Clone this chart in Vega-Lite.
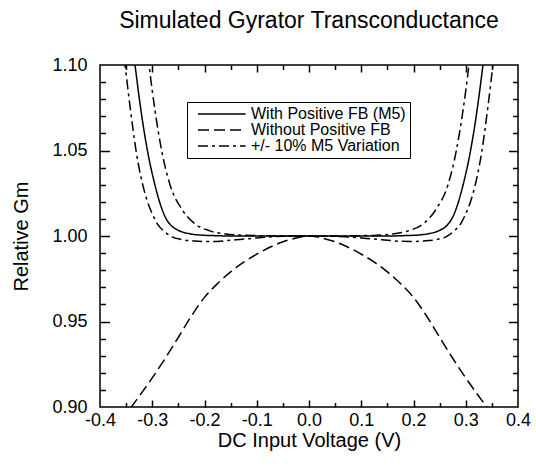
{
  "$schema": "https://vega.github.io/schema/vega-lite/v6.json",
  "width": 418,
  "height": 342,
  "autosize": {"type": "none"},
  "padding": {"left": 100, "top": 65, "right": 18, "bottom": 61},
  "background": "white",
  "title": {"text": "Simulated Gyrator Transconductance", "fontSize": 23, "fontWeight": "normal", "font": "Liberation Sans", "anchor": "middle", "baseline": "alphabetic", "offset": 11, "dy": 28, "color": "black"},
  "data": {"values": [
    {"c": "fb", "s": "With Positive FB (M5)", "x": -0.34, "y": 1.116},
    {"c": "fb", "s": "With Positive FB (M5)", "x": -0.333, "y": 1.1},
    {"c": "fb", "s": "With Positive FB (M5)", "x": -0.325, "y": 1.081},
    {"c": "fb", "s": "With Positive FB (M5)", "x": -0.317, "y": 1.064},
    {"c": "fb", "s": "With Positive FB (M5)", "x": -0.308, "y": 1.048},
    {"c": "fb", "s": "With Positive FB (M5)", "x": -0.295, "y": 1.03},
    {"c": "fb", "s": "With Positive FB (M5)", "x": -0.285, "y": 1.019},
    {"c": "fb", "s": "With Positive FB (M5)", "x": -0.275, "y": 1.011},
    {"c": "fb", "s": "With Positive FB (M5)", "x": -0.265, "y": 1.0065},
    {"c": "fb", "s": "With Positive FB (M5)", "x": -0.25, "y": 1.0033},
    {"c": "fb", "s": "With Positive FB (M5)", "x": -0.23, "y": 1.0014},
    {"c": "fb", "s": "With Positive FB (M5)", "x": -0.21, "y": 1.0006},
    {"c": "fb", "s": "With Positive FB (M5)", "x": -0.18, "y": 1.0002},
    {"c": "fb", "s": "With Positive FB (M5)", "x": -0.15, "y": 1.0},
    {"c": "fb", "s": "With Positive FB (M5)", "x": -0.1, "y": 1.0},
    {"c": "fb", "s": "With Positive FB (M5)", "x": 0, "y": 1.0},
    {"c": "fb", "s": "With Positive FB (M5)", "x": 0.1, "y": 1.0},
    {"c": "fb", "s": "With Positive FB (M5)", "x": 0.15, "y": 1.0},
    {"c": "fb", "s": "With Positive FB (M5)", "x": 0.18, "y": 1.0002},
    {"c": "fb", "s": "With Positive FB (M5)", "x": 0.21, "y": 1.0006},
    {"c": "fb", "s": "With Positive FB (M5)", "x": 0.23, "y": 1.0014},
    {"c": "fb", "s": "With Positive FB (M5)", "x": 0.25, "y": 1.0033},
    {"c": "fb", "s": "With Positive FB (M5)", "x": 0.265, "y": 1.0065},
    {"c": "fb", "s": "With Positive FB (M5)", "x": 0.275, "y": 1.011},
    {"c": "fb", "s": "With Positive FB (M5)", "x": 0.285, "y": 1.019},
    {"c": "fb", "s": "With Positive FB (M5)", "x": 0.295, "y": 1.03},
    {"c": "fb", "s": "With Positive FB (M5)", "x": 0.308, "y": 1.048},
    {"c": "fb", "s": "With Positive FB (M5)", "x": 0.317, "y": 1.064},
    {"c": "fb", "s": "With Positive FB (M5)", "x": 0.325, "y": 1.081},
    {"c": "fb", "s": "With Positive FB (M5)", "x": 0.333, "y": 1.1},
    {"c": "fb", "s": "With Positive FB (M5)", "x": 0.34, "y": 1.116},
    {"c": "nf", "s": "Without Positive FB", "x": -0.36, "y": 0.892},
    {"c": "nf", "s": "Without Positive FB", "x": -0.34, "y": 0.9},
    {"c": "nf", "s": "Without Positive FB", "x": -0.325, "y": 0.9063},
    {"c": "nf", "s": "Without Positive FB", "x": -0.3, "y": 0.917},
    {"c": "nf", "s": "Without Positive FB", "x": -0.275, "y": 0.9285},
    {"c": "nf", "s": "Without Positive FB", "x": -0.25, "y": 0.9408},
    {"c": "nf", "s": "Without Positive FB", "x": -0.225, "y": 0.9532},
    {"c": "nf", "s": "Without Positive FB", "x": -0.2, "y": 0.9641},
    {"c": "nf", "s": "Without Positive FB", "x": -0.175, "y": 0.9722},
    {"c": "nf", "s": "Without Positive FB", "x": -0.15, "y": 0.979},
    {"c": "nf", "s": "Without Positive FB", "x": -0.125, "y": 0.9847},
    {"c": "nf", "s": "Without Positive FB", "x": -0.1, "y": 0.9894},
    {"c": "nf", "s": "Without Positive FB", "x": -0.075, "y": 0.9934},
    {"c": "nf", "s": "Without Positive FB", "x": -0.05, "y": 0.9966},
    {"c": "nf", "s": "Without Positive FB", "x": -0.025, "y": 0.9988},
    {"c": "nf", "s": "Without Positive FB", "x": 0, "y": 1.0},
    {"c": "nf", "s": "Without Positive FB", "x": 0.025, "y": 0.9988},
    {"c": "nf", "s": "Without Positive FB", "x": 0.05, "y": 0.9966},
    {"c": "nf", "s": "Without Positive FB", "x": 0.075, "y": 0.9934},
    {"c": "nf", "s": "Without Positive FB", "x": 0.1, "y": 0.9894},
    {"c": "nf", "s": "Without Positive FB", "x": 0.125, "y": 0.9847},
    {"c": "nf", "s": "Without Positive FB", "x": 0.15, "y": 0.979},
    {"c": "nf", "s": "Without Positive FB", "x": 0.175, "y": 0.9722},
    {"c": "nf", "s": "Without Positive FB", "x": 0.2, "y": 0.9641},
    {"c": "nf", "s": "Without Positive FB", "x": 0.225, "y": 0.9532},
    {"c": "nf", "s": "Without Positive FB", "x": 0.25, "y": 0.9408},
    {"c": "nf", "s": "Without Positive FB", "x": 0.275, "y": 0.9285},
    {"c": "nf", "s": "Without Positive FB", "x": 0.3, "y": 0.917},
    {"c": "nf", "s": "Without Positive FB", "x": 0.325, "y": 0.9063},
    {"c": "nf", "s": "Without Positive FB", "x": 0.34, "y": 0.9},
    {"c": "nf", "s": "Without Positive FB", "x": 0.36, "y": 0.892},
    {"c": "vh", "s": "+/- 10% M5 Variation", "x": -0.312, "y": 1.118},
    {"c": "vh", "s": "+/- 10% M5 Variation", "x": -0.306, "y": 1.1},
    {"c": "vh", "s": "+/- 10% M5 Variation", "x": -0.295, "y": 1.074},
    {"c": "vh", "s": "+/- 10% M5 Variation", "x": -0.282, "y": 1.05},
    {"c": "vh", "s": "+/- 10% M5 Variation", "x": -0.266, "y": 1.03},
    {"c": "vh", "s": "+/- 10% M5 Variation", "x": -0.243, "y": 1.0155},
    {"c": "vh", "s": "+/- 10% M5 Variation", "x": -0.22, "y": 1.0075},
    {"c": "vh", "s": "+/- 10% M5 Variation", "x": -0.19, "y": 1.003},
    {"c": "vh", "s": "+/- 10% M5 Variation", "x": -0.16, "y": 1.0012},
    {"c": "vh", "s": "+/- 10% M5 Variation", "x": -0.13, "y": 1.0005},
    {"c": "vh", "s": "+/- 10% M5 Variation", "x": -0.1, "y": 1.0002},
    {"c": "vh", "s": "+/- 10% M5 Variation", "x": -0.05, "y": 1.0},
    {"c": "vh", "s": "+/- 10% M5 Variation", "x": 0, "y": 1.0},
    {"c": "vh", "s": "+/- 10% M5 Variation", "x": 0.05, "y": 1.0},
    {"c": "vh", "s": "+/- 10% M5 Variation", "x": 0.1, "y": 1.0002},
    {"c": "vh", "s": "+/- 10% M5 Variation", "x": 0.13, "y": 1.0005},
    {"c": "vh", "s": "+/- 10% M5 Variation", "x": 0.16, "y": 1.0012},
    {"c": "vh", "s": "+/- 10% M5 Variation", "x": 0.19, "y": 1.003},
    {"c": "vh", "s": "+/- 10% M5 Variation", "x": 0.22, "y": 1.0075},
    {"c": "vh", "s": "+/- 10% M5 Variation", "x": 0.243, "y": 1.0155},
    {"c": "vh", "s": "+/- 10% M5 Variation", "x": 0.266, "y": 1.03},
    {"c": "vh", "s": "+/- 10% M5 Variation", "x": 0.282, "y": 1.05},
    {"c": "vh", "s": "+/- 10% M5 Variation", "x": 0.295, "y": 1.074},
    {"c": "vh", "s": "+/- 10% M5 Variation", "x": 0.306, "y": 1.1},
    {"c": "vh", "s": "+/- 10% M5 Variation", "x": 0.312, "y": 1.118},
    {"c": "vl", "s": "+/- 10% M5 Variation", "x": -0.358, "y": 1.116},
    {"c": "vl", "s": "+/- 10% M5 Variation", "x": -0.352, "y": 1.1},
    {"c": "vl", "s": "+/- 10% M5 Variation", "x": -0.343, "y": 1.077},
    {"c": "vl", "s": "+/- 10% M5 Variation", "x": -0.33, "y": 1.048},
    {"c": "vl", "s": "+/- 10% M5 Variation", "x": -0.314, "y": 1.025},
    {"c": "vl", "s": "+/- 10% M5 Variation", "x": -0.3, "y": 1.013},
    {"c": "vl", "s": "+/- 10% M5 Variation", "x": -0.29, "y": 1.007},
    {"c": "vl", "s": "+/- 10% M5 Variation", "x": -0.278, "y": 1.003},
    {"c": "vl", "s": "+/- 10% M5 Variation", "x": -0.262, "y": 0.9995},
    {"c": "vl", "s": "+/- 10% M5 Variation", "x": -0.245, "y": 0.998},
    {"c": "vl", "s": "+/- 10% M5 Variation", "x": -0.22, "y": 0.9971},
    {"c": "vl", "s": "+/- 10% M5 Variation", "x": -0.195, "y": 0.9968},
    {"c": "vl", "s": "+/- 10% M5 Variation", "x": -0.17, "y": 0.997},
    {"c": "vl", "s": "+/- 10% M5 Variation", "x": -0.14, "y": 0.9978},
    {"c": "vl", "s": "+/- 10% M5 Variation", "x": -0.11, "y": 0.9986},
    {"c": "vl", "s": "+/- 10% M5 Variation", "x": -0.08, "y": 0.9994},
    {"c": "vl", "s": "+/- 10% M5 Variation", "x": -0.05, "y": 0.9998},
    {"c": "vl", "s": "+/- 10% M5 Variation", "x": 0, "y": 1.0},
    {"c": "vl", "s": "+/- 10% M5 Variation", "x": 0.05, "y": 0.9998},
    {"c": "vl", "s": "+/- 10% M5 Variation", "x": 0.08, "y": 0.9994},
    {"c": "vl", "s": "+/- 10% M5 Variation", "x": 0.11, "y": 0.9986},
    {"c": "vl", "s": "+/- 10% M5 Variation", "x": 0.14, "y": 0.9978},
    {"c": "vl", "s": "+/- 10% M5 Variation", "x": 0.17, "y": 0.997},
    {"c": "vl", "s": "+/- 10% M5 Variation", "x": 0.195, "y": 0.9968},
    {"c": "vl", "s": "+/- 10% M5 Variation", "x": 0.22, "y": 0.9971},
    {"c": "vl", "s": "+/- 10% M5 Variation", "x": 0.245, "y": 0.998},
    {"c": "vl", "s": "+/- 10% M5 Variation", "x": 0.262, "y": 0.9995},
    {"c": "vl", "s": "+/- 10% M5 Variation", "x": 0.278, "y": 1.003},
    {"c": "vl", "s": "+/- 10% M5 Variation", "x": 0.29, "y": 1.007},
    {"c": "vl", "s": "+/- 10% M5 Variation", "x": 0.3, "y": 1.013},
    {"c": "vl", "s": "+/- 10% M5 Variation", "x": 0.314, "y": 1.025},
    {"c": "vl", "s": "+/- 10% M5 Variation", "x": 0.33, "y": 1.048},
    {"c": "vl", "s": "+/- 10% M5 Variation", "x": 0.343, "y": 1.077},
    {"c": "vl", "s": "+/- 10% M5 Variation", "x": 0.352, "y": 1.1},
    {"c": "vl", "s": "+/- 10% M5 Variation", "x": 0.358, "y": 1.116}
  ]},
  "resolve": {"axis": {"x": "independent", "y": "independent"}},
  "layer": [
    {
      "mark": {"type": "line", "clip": true, "stroke": "black", "strokeWidth": 1.5, "interpolate": "monotone"},
      "encoding": {
        "x": {"field": "x", "type": "quantitative", "scale": {"domain": [-0.4, 0.4], "nice": false, "zero": false},
              "axis": {"orient": "bottom", "values": [-0.4, -0.3, -0.2, -0.1, 0, 0.1, 0.2, 0.3, 0.4], "labelExpr": "replace(format(datum.value, '.1f'), '\u2212', '-')", "ticks": false, "labelPadding": 4, "labelFontSize": 18, "labelFlush": false, "title": "DC Input Voltage (V)", "titleFontSize": 20, "titlePadding": 1}},
        "y": {"field": "y", "type": "quantitative", "scale": {"domain": [0.9, 1.1], "nice": false, "zero": false},
              "axis": {"orient": "left", "values": [0.9, 0.95, 1.0, 1.05, 1.1], "format": ".2f", "ticks": false, "labelPadding": 13, "labelFontSize": 18, "labelFlush": false, "title": "Relative Gm", "titleFontSize": 20, "titlePadding": 20}},
        "detail": {"field": "c"},
        "strokeDash": {"field": "s", "type": "nominal",
                       "scale": {"domain": ["With Positive FB (M5)", "Without Positive FB", "+/- 10% M5 Variation"], "range": [[1, 0], [11, 5], [10, 4, 3, 4]]},
                       "legend": {"orient": "none", "legendX": 87, "legendY": 37, "title": null, "strokeColor": "black", "fillColor": "white", "padding": 4, "symbolType": "M-3.4,0H3.4", "symbolSize": 196, "symbolStrokeWidth": 1.5, "symbolStrokeColor": "black", "symbolFillColor": "transparent", "symbolOffset": 22.8, "labelFont": "Liberation Sans", "labelFontSize": 16, "labelOffset": 21.2, "labelLimit": 300, "rowPadding": 0, "labelColor": "black"}}
      }
    },
    {
      "mark": {"type": "point", "opacity": 0, "size": 1},
      "encoding": {
        "x": {"field": "x", "type": "quantitative", "axis": {"orient": "bottom", "values": [-0.3, -0.2, -0.1, 0, 0.1, 0.2, 0.3], "labels": false, "tickSize": -7, "title": null}},
        "y": {"field": "y", "type": "quantitative", "axis": {"orient": "left", "values": [0.95, 1.0, 1.05], "labels": false, "tickSize": -9.5, "title": null}}
      }
    },
    {
      "mark": {"type": "point", "opacity": 0, "size": 1},
      "encoding": {
        "x": {"field": "x", "type": "quantitative", "axis": {"orient": "bottom", "values": [-0.35, -0.25, -0.15, -0.05, 0.05, 0.15, 0.25, 0.35], "labels": false, "tickSize": -4.5, "title": null}},
        "y": {"field": "y", "type": "quantitative", "axis": {"orient": "left", "values": [0.91, 0.92, 0.93, 0.94, 0.96, 0.97, 0.98, 0.99, 1.01, 1.02, 1.03, 1.04, 1.06, 1.07, 1.08, 1.09], "labels": false, "tickSize": -5.5, "title": null}}
      }
    },
    {
      "mark": {"type": "point", "opacity": 0, "size": 1},
      "encoding": {
        "x": {"field": "x", "type": "quantitative", "axis": {"orient": "top", "values": [-0.3, -0.2, -0.1, 0, 0.1, 0.2, 0.3], "labels": false, "tickSize": -7, "title": null}},
        "y": {"field": "y", "type": "quantitative", "axis": {"orient": "right", "values": [0.95, 1.0, 1.05], "labels": false, "tickSize": -9.5, "title": null}}
      }
    },
    {
      "mark": {"type": "point", "opacity": 0, "size": 1},
      "encoding": {
        "x": {"field": "x", "type": "quantitative", "axis": {"orient": "top", "values": [-0.35, -0.25, -0.15, -0.05, 0.05, 0.15, 0.25, 0.35], "labels": false, "tickSize": -4.5, "title": null}},
        "y": {"field": "y", "type": "quantitative", "axis": {"orient": "right", "values": [0.91, 0.92, 0.93, 0.94, 0.96, 0.97, 0.98, 0.99, 1.01, 1.02, 1.03, 1.04, 1.06, 1.07, 1.08, 1.09], "labels": false, "tickSize": -5.5, "title": null}}
      }
    }
  ],
  "config": {
    "view": {"stroke": "black", "strokeWidth": 1.5},
    "font": "Liberation Sans",
    "axis": {"grid": false, "domain": false, "labelFont": "Liberation Sans", "titleFont": "Liberation Sans", "labelColor": "black", "titleColor": "black", "tickColor": "black", "tickWidth": 1.5, "titleFontWeight": "normal"}
  }
}
